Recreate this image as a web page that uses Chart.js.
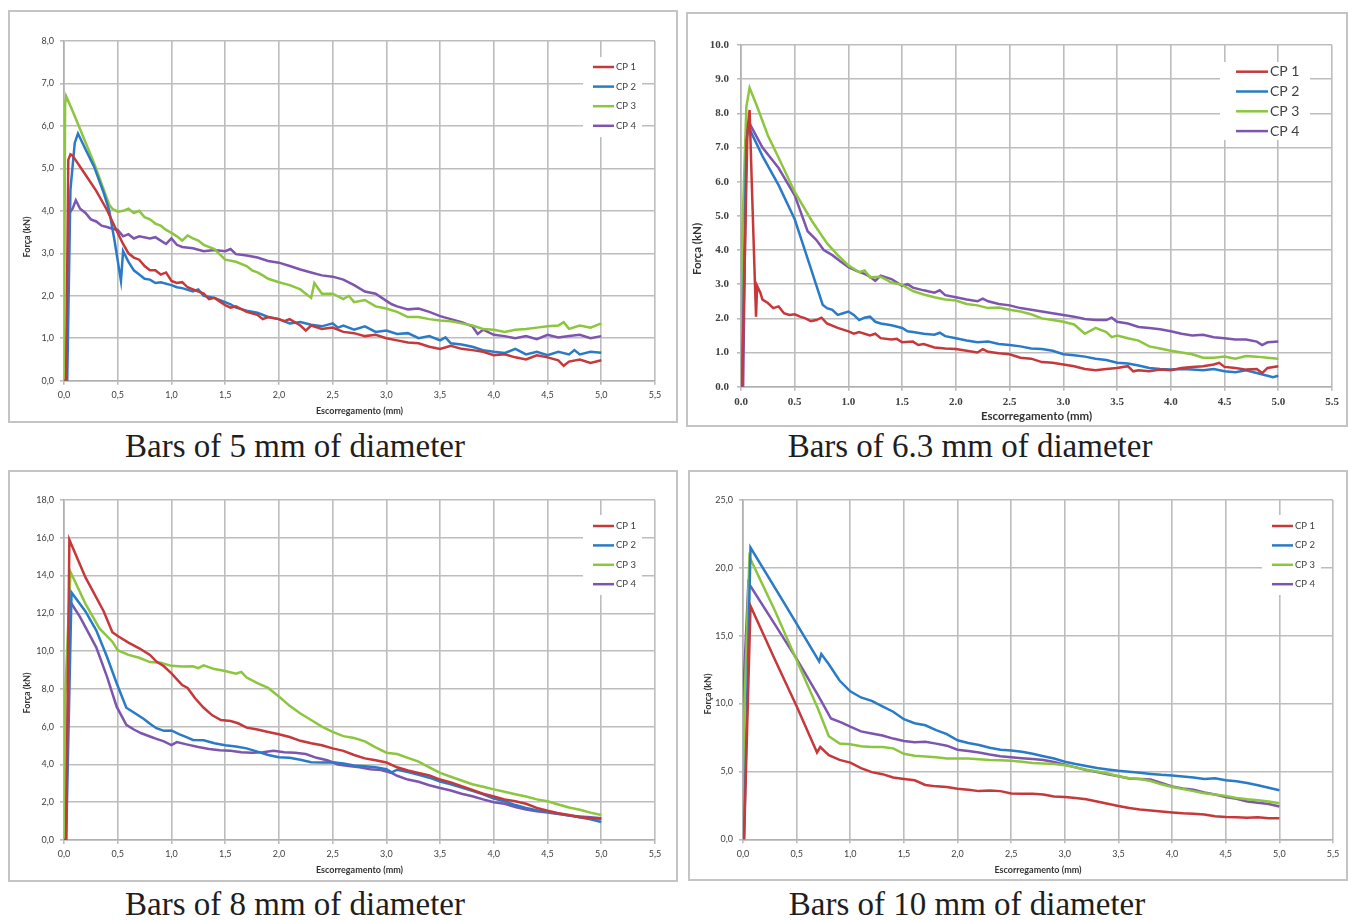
<!DOCTYPE html>
<html>
<head>
<meta charset="utf-8">
<script src="https://cdn.jsdelivr.net/npm/chart.js@4.4.0/dist/chart.umd.min.js"></script>
<style>
  body { margin:0; background:#fff; width:1348px; height:920px; overflow:hidden; position:relative; }
  .frame { position:absolute; border:2px solid #c4c4c4; box-sizing:border-box; }
  canvas { position:absolute; }
  .cap { position:absolute; font-family:"Liberation Serif", serif; font-size:33px; line-height:33px;
         color:#1e1e1e; white-space:nowrap; transform:translateX(-50%); }
</style>
</head>
<body>
<div class="frame" style="left:8px;top:10px;width:670px;height:413px"></div>
<div class="frame" style="left:686px;top:12px;width:662px;height:415px"></div>
<div class="frame" style="left:8px;top:470px;width:670px;height:412px"></div>
<div class="frame" style="left:688px;top:470px;width:660px;height:411px"></div>
<canvas id="c5" width="670" height="413" style="left:8px;top:10px"></canvas>
<canvas id="c63" width="662" height="415" style="left:686px;top:12px"></canvas>
<canvas id="c8" width="670" height="412" style="left:8px;top:470px"></canvas>
<canvas id="c10" width="660" height="411" style="left:688px;top:470px"></canvas>
<div class="cap" id="cap0" style="left:295px;top:430px"></div>
<div class="cap" id="cap1" style="left:970px;top:430px"></div>
<div class="cap" id="cap2" style="left:295px;top:888px"></div>
<div class="cap" id="cap3" style="left:967px;top:888px"></div>
<script>
// labels / axes
const seriesLabels = ['CP 1', 'CP 2', 'CP 3', 'CP 4'];
const seriesColors = ['#c6383a', '#2a7bc7', '#8cc63e', '#7d55ae'];
const captions = ['Bars of 5 mm of diameter', 'Bars of 6.3 mm of diameter',
                  'Bars of 8 mm of diameter', 'Bars of 10 mm of diameter'];
const xTitle = 'Escorregamento (mm)';
const yTitle = 'Força (kN)';
const xMax = 5.5, xStep = 0.5;
const yMax = [8, 10, 18, 25];
const yStep = [1, 1, 2, 5];

// ---- 5 mm
const p5_cp1 = [[0,0],[0.02,0],[0.04,5.2],[0.06,5.33],[0.08,5.3],[0.2,4.85],[0.3,4.47],[0.4,4.02],[0.5,3.48],[0.55,3.22],[0.6,3.0],[0.65,2.9],[0.7,2.85],[0.75,2.7],[0.8,2.6],[0.85,2.6],[0.9,2.5],[0.95,2.55],[1.0,2.35],[1.05,2.3],[1.1,2.32],[1.15,2.2],[1.2,2.15],[1.3,2.05],[1.35,1.92],[1.4,1.95],[1.5,1.78],[1.55,1.72],[1.6,1.75],[1.7,1.62],[1.8,1.55],[1.85,1.45],[1.9,1.5],[2.0,1.45],[2.05,1.4],[2.1,1.45],[2.2,1.3],[2.25,1.18],[2.3,1.3],[2.4,1.22],[2.5,1.25],[2.6,1.15],[2.7,1.12],[2.8,1.05],[2.9,1.08],[3.0,1.0],[3.1,0.95],[3.2,0.9],[3.3,0.88],[3.4,0.8],[3.5,0.75],[3.6,0.82],[3.7,0.75],[3.8,0.72],[3.9,0.68],[4.0,0.6],[4.1,0.62],[4.2,0.55],[4.3,0.5],[4.4,0.6],[4.5,0.55],[4.6,0.48],[4.65,0.35],[4.7,0.45],[4.8,0.5],[4.9,0.42],[5.0,0.48]];
const p5_cp2 = [[0.02,0],[0.03,0],[0.06,4.5],[0.1,5.6],[0.13,5.82],[0.2,5.45],[0.28,5.04],[0.37,4.42],[0.42,4.02],[0.47,3.3],[0.53,2.35],[0.55,3.05],[0.6,2.8],[0.65,2.6],[0.7,2.5],[0.75,2.4],[0.8,2.38],[0.85,2.3],[0.9,2.32],[1.0,2.25],[1.05,2.2],[1.1,2.18],[1.2,2.1],[1.25,2.15],[1.3,2.0],[1.4,1.95],[1.5,1.85],[1.55,1.8],[1.6,1.72],[1.7,1.65],[1.8,1.6],[1.9,1.5],[2.0,1.45],[2.1,1.35],[2.2,1.38],[2.3,1.32],[2.4,1.28],[2.5,1.35],[2.55,1.25],[2.6,1.3],[2.7,1.2],[2.8,1.28],[2.9,1.15],[3.0,1.18],[3.1,1.1],[3.2,1.12],[3.3,1.0],[3.4,1.05],[3.5,0.95],[3.55,1.02],[3.6,0.88],[3.7,0.85],[3.8,0.8],[3.9,0.72],[4.0,0.68],[4.1,0.65],[4.2,0.75],[4.3,0.62],[4.4,0.68],[4.5,0.6],[4.6,0.68],[4.7,0.62],[4.75,0.72],[4.8,0.62],[4.9,0.68],[5.0,0.66]];
const p5_cp3 = [[0,0],[0.01,6.5],[0.02,6.7],[0.08,6.35],[0.15,5.92],[0.28,5.12],[0.37,4.5],[0.42,4.15],[0.45,4.05],[0.5,3.98],[0.55,4.0],[0.6,4.05],[0.65,3.95],[0.7,4.0],[0.75,3.85],[0.8,3.8],[0.85,3.7],[0.9,3.65],[0.95,3.55],[1.0,3.48],[1.05,3.4],[1.1,3.3],[1.15,3.42],[1.2,3.35],[1.25,3.3],[1.3,3.2],[1.4,3.1],[1.5,2.85],[1.6,2.8],[1.7,2.7],[1.75,2.6],[1.8,2.55],[1.85,2.48],[1.9,2.4],[2.0,2.32],[2.1,2.25],[2.2,2.15],[2.25,2.05],[2.3,1.95],[2.33,2.3],[2.4,2.05],[2.5,2.05],[2.6,1.92],[2.65,2.0],[2.7,1.85],[2.8,1.9],[2.9,1.75],[3.0,1.7],[3.1,1.62],[3.2,1.5],[3.3,1.5],[3.4,1.45],[3.5,1.42],[3.6,1.4],[3.7,1.35],[3.8,1.3],[3.9,1.22],[4.0,1.2],[4.1,1.15],[4.2,1.2],[4.3,1.22],[4.4,1.25],[4.5,1.28],[4.6,1.3],[4.65,1.38],[4.7,1.22],[4.8,1.3],[4.9,1.25],[5.0,1.35]];
const p5_cp4 = [[0.01,0],[0.02,0],[0.05,3.95],[0.08,4.05],[0.11,4.25],[0.15,4.05],[0.2,3.95],[0.25,3.8],[0.3,3.75],[0.35,3.65],[0.4,3.62],[0.45,3.58],[0.5,3.55],[0.55,3.4],[0.6,3.45],[0.65,3.35],[0.7,3.4],[0.8,3.35],[0.85,3.38],[0.9,3.3],[0.95,3.22],[1.0,3.35],[1.05,3.2],[1.1,3.15],[1.2,3.12],[1.3,3.05],[1.4,3.08],[1.5,3.05],[1.55,3.1],[1.6,2.98],[1.7,2.95],[1.8,2.9],[1.9,2.82],[2.0,2.78],[2.1,2.7],[2.2,2.62],[2.3,2.55],[2.4,2.48],[2.5,2.45],[2.6,2.38],[2.7,2.25],[2.8,2.1],[2.9,2.05],[3.0,1.88],[3.05,1.8],[3.1,1.75],[3.2,1.68],[3.3,1.7],[3.4,1.62],[3.5,1.52],[3.6,1.45],[3.7,1.38],[3.8,1.28],[3.85,1.1],[3.9,1.2],[4.0,1.08],[4.1,1.05],[4.2,1.0],[4.3,1.05],[4.4,0.98],[4.5,1.08],[4.6,1.02],[4.7,1.05],[4.8,1.08],[4.9,1.0],[5.0,1.05]];

// ---- 6.3 mm
const p63_cp1 = [[0,0],[0.01,0],[0.06,7.5],[0.08,8.1],[0.1,6.0],[0.13,3.0],[0.14,2.05],[0.15,2.95],[0.18,2.75],[0.2,2.55],[0.25,2.45],[0.3,2.3],[0.35,2.35],[0.4,2.15],[0.45,2.1],[0.5,2.12],[0.55,2.05],[0.6,2.0],[0.65,1.92],[0.7,1.95],[0.75,2.02],[0.8,1.85],[0.9,1.72],[1.0,1.62],[1.05,1.55],[1.1,1.6],[1.2,1.5],[1.25,1.55],[1.3,1.42],[1.4,1.38],[1.45,1.4],[1.5,1.3],[1.6,1.32],[1.65,1.22],[1.7,1.25],[1.8,1.15],[1.9,1.12],[2.0,1.1],[2.1,1.05],[2.2,1.0],[2.25,1.1],[2.3,1.02],[2.4,0.98],[2.5,0.95],[2.6,0.85],[2.7,0.82],[2.8,0.72],[2.9,0.7],[3.0,0.65],[3.1,0.6],[3.2,0.52],[3.3,0.48],[3.4,0.52],[3.5,0.55],[3.6,0.6],[3.65,0.45],[3.7,0.48],[3.8,0.45],[3.9,0.5],[4.0,0.48],[4.1,0.55],[4.2,0.58],[4.3,0.6],[4.4,0.65],[4.45,0.7],[4.5,0.58],[4.6,0.55],[4.7,0.5],[4.8,0.52],[4.85,0.4],[4.9,0.55],[5.0,0.6]];
const p63_cp2 = [[0,0],[0.01,0],[0.05,7.2],[0.07,7.6],[0.2,6.75],[0.35,5.9],[0.5,4.9],[0.62,3.75],[0.76,2.4],[0.8,2.3],[0.85,2.25],[0.9,2.1],[0.95,2.15],[1.0,2.2],[1.05,2.1],[1.1,1.95],[1.15,2.02],[1.2,2.05],[1.25,1.9],[1.3,1.85],[1.4,1.8],[1.5,1.72],[1.55,1.62],[1.6,1.6],[1.7,1.55],[1.8,1.52],[1.85,1.58],[1.9,1.48],[2.0,1.42],[2.1,1.35],[2.2,1.3],[2.3,1.32],[2.4,1.25],[2.5,1.22],[2.6,1.18],[2.7,1.12],[2.8,1.1],[2.9,1.05],[3.0,0.95],[3.1,0.92],[3.2,0.88],[3.3,0.82],[3.4,0.78],[3.5,0.7],[3.6,0.68],[3.7,0.62],[3.8,0.55],[3.9,0.52],[4.0,0.5],[4.1,0.52],[4.2,0.5],[4.3,0.48],[4.4,0.52],[4.5,0.45],[4.6,0.42],[4.7,0.48],[4.8,0.4],[4.9,0.32],[4.95,0.28],[5.0,0.32]];
const p63_cp3 = [[0,0],[0.01,4.3],[0.05,8.2],[0.08,8.75],[0.15,8.2],[0.25,7.35],[0.35,6.7],[0.5,5.7],[0.66,4.85],[0.8,4.2],[0.9,3.85],[1.0,3.55],[1.1,3.35],[1.15,3.4],[1.2,3.2],[1.3,3.22],[1.4,3.05],[1.5,2.98],[1.6,2.8],[1.7,2.7],[1.8,2.62],[1.9,2.55],[2.0,2.52],[2.1,2.42],[2.2,2.38],[2.3,2.3],[2.4,2.32],[2.5,2.25],[2.6,2.2],[2.7,2.12],[2.8,2.0],[2.9,1.95],[3.0,1.9],[3.1,1.82],[3.2,1.55],[3.3,1.72],[3.4,1.6],[3.45,1.45],[3.5,1.5],[3.6,1.42],[3.7,1.35],[3.8,1.18],[3.9,1.12],[4.0,1.05],[4.1,1.0],[4.2,0.95],[4.3,0.85],[4.4,0.85],[4.5,0.88],[4.6,0.82],[4.7,0.9],[4.8,0.88],[4.9,0.85],[5.0,0.82]];
const p63_cp4 = [[0.01,0],[0.02,0],[0.05,7.3],[0.08,7.7],[0.2,7.0],[0.35,6.4],[0.5,5.6],[0.62,4.55],[0.7,4.3],[0.77,4.0],[0.85,3.85],[0.93,3.66],[1.0,3.5],[1.08,3.38],[1.15,3.3],[1.2,3.22],[1.25,3.1],[1.3,3.25],[1.4,3.15],[1.5,2.95],[1.55,3.0],[1.6,2.9],[1.7,2.82],[1.8,2.75],[1.85,2.82],[1.9,2.68],[2.0,2.62],[2.1,2.55],[2.2,2.5],[2.25,2.58],[2.3,2.5],[2.4,2.42],[2.5,2.38],[2.6,2.3],[2.7,2.25],[2.8,2.2],[2.9,2.15],[3.0,2.1],[3.1,2.05],[3.2,1.98],[3.3,1.95],[3.4,1.95],[3.45,2.02],[3.5,1.9],[3.6,1.85],[3.7,1.75],[3.8,1.72],[3.9,1.68],[4.0,1.62],[4.1,1.55],[4.2,1.5],[4.3,1.52],[4.4,1.45],[4.5,1.42],[4.6,1.38],[4.7,1.38],[4.8,1.32],[4.85,1.22],[4.9,1.3],[5.0,1.32]];

// ---- 8 mm
const p8_cp1 = [[0,0],[0.02,0],[0.05,15.9],[0.2,13.9],[0.37,12.1],[0.45,11.0],[0.5,10.8],[0.6,10.45],[0.7,10.15],[0.8,9.8],[0.86,9.45],[0.93,9.2],[1.0,8.82],[1.1,8.2],[1.15,8.05],[1.22,7.5],[1.3,7.0],[1.38,6.6],[1.46,6.35],[1.55,6.3],[1.62,6.18],[1.7,5.95],[1.8,5.85],[1.9,5.72],[2.0,5.6],[2.1,5.45],[2.2,5.25],[2.3,5.12],[2.4,5.02],[2.5,4.85],[2.6,4.72],[2.7,4.5],[2.8,4.32],[2.9,4.22],[3.0,4.1],[3.1,3.85],[3.2,3.68],[3.3,3.55],[3.4,3.42],[3.5,3.2],[3.6,3.05],[3.7,2.85],[3.8,2.65],[3.9,2.45],[4.0,2.3],[4.1,2.15],[4.2,2.05],[4.3,1.92],[4.4,1.7],[4.5,1.55],[4.6,1.42],[4.7,1.32],[4.8,1.2],[4.9,1.15],[5.0,1.12]];
const p8_cp2 = [[0.01,0],[0.02,0],[0.07,13.1],[0.2,12.1],[0.3,11.1],[0.4,9.7],[0.49,8.3],[0.58,7.0],[0.65,6.75],[0.74,6.42],[0.8,6.15],[0.86,5.92],[0.93,5.78],[1.0,5.8],[1.07,5.6],[1.14,5.45],[1.2,5.3],[1.3,5.28],[1.4,5.12],[1.5,5.02],[1.6,4.95],[1.7,4.85],[1.8,4.68],[1.9,4.5],[2.0,4.38],[2.1,4.35],[2.2,4.25],[2.3,4.12],[2.4,4.1],[2.5,4.12],[2.6,4.05],[2.7,3.95],[2.8,3.9],[2.9,3.85],[3.0,3.75],[3.05,3.58],[3.1,3.72],[3.2,3.6],[3.3,3.45],[3.4,3.3],[3.5,3.1],[3.6,2.95],[3.7,2.78],[3.8,2.6],[3.9,2.42],[4.0,2.2],[4.1,2.05],[4.2,1.85],[4.3,1.7],[4.4,1.58],[4.5,1.5],[4.6,1.4],[4.7,1.3],[4.8,1.2],[4.9,1.1],[5.0,0.95]];
const p8_cp3 = [[0,0],[0.01,7.5],[0.06,14.2],[0.2,12.5],[0.33,11.2],[0.45,10.5],[0.5,10.05],[0.6,9.8],[0.7,9.65],[0.8,9.42],[0.9,9.38],[1.0,9.22],[1.1,9.18],[1.2,9.2],[1.25,9.1],[1.3,9.25],[1.4,9.05],[1.5,8.95],[1.6,8.8],[1.65,8.9],[1.7,8.6],[1.8,8.3],[1.9,8.05],[2.0,7.6],[2.1,7.1],[2.2,6.7],[2.3,6.35],[2.4,6.0],[2.5,5.72],[2.6,5.5],[2.7,5.4],[2.8,5.22],[2.9,4.9],[3.0,4.62],[3.1,4.55],[3.2,4.35],[3.3,4.15],[3.4,3.85],[3.5,3.55],[3.6,3.35],[3.7,3.15],[3.8,2.95],[3.9,2.82],[4.0,2.68],[4.1,2.55],[4.2,2.42],[4.3,2.3],[4.4,2.15],[4.5,2.05],[4.6,1.88],[4.7,1.72],[4.8,1.6],[4.9,1.45],[5.0,1.32]];
const p8_cp4 = [[0,0],[0.01,0],[0.06,12.6],[0.15,11.8],[0.3,10.2],[0.4,8.65],[0.49,7.06],[0.58,6.1],[0.65,5.85],[0.72,5.65],[0.8,5.48],[0.86,5.35],[0.93,5.22],[1.0,5.02],[1.05,5.18],[1.15,5.05],[1.25,4.92],[1.35,4.82],[1.45,4.75],[1.55,4.72],[1.65,4.65],[1.75,4.62],[1.85,4.65],[1.95,4.72],[2.05,4.65],[2.15,4.62],[2.25,4.55],[2.35,4.35],[2.45,4.22],[2.55,4.0],[2.65,3.92],[2.75,3.85],[2.85,3.75],[2.95,3.7],[3.05,3.55],[3.1,3.4],[3.2,3.2],[3.3,3.08],[3.4,2.9],[3.5,2.75],[3.6,2.62],[3.7,2.45],[3.8,2.32],[3.9,2.15],[4.0,2.0],[4.1,1.92],[4.2,1.75],[4.3,1.62],[4.4,1.52],[4.5,1.45],[4.6,1.38],[4.7,1.3],[4.8,1.25],[4.9,1.2],[5.0,1.15]];

// ---- 10 mm
const p10_cp1 = [[0,0],[0.01,0],[0.07,17.2],[0.3,13.2],[0.5,9.8],[0.69,6.4],[0.72,6.8],[0.8,6.2],[0.9,5.85],[1.0,5.65],[1.1,5.25],[1.2,4.95],[1.3,4.8],[1.4,4.55],[1.5,4.45],[1.6,4.35],[1.7,4.0],[1.8,3.9],[1.9,3.85],[2.0,3.72],[2.1,3.65],[2.2,3.55],[2.3,3.6],[2.4,3.55],[2.5,3.38],[2.6,3.35],[2.7,3.35],[2.8,3.3],[2.9,3.15],[3.0,3.12],[3.1,3.05],[3.2,2.95],[3.3,2.78],[3.4,2.62],[3.5,2.45],[3.6,2.3],[3.7,2.2],[3.8,2.12],[3.9,2.05],[4.0,1.98],[4.1,1.92],[4.2,1.88],[4.3,1.82],[4.4,1.7],[4.5,1.65],[4.6,1.62],[4.7,1.58],[4.8,1.62],[4.9,1.55],[5.0,1.55]];
const p10_cp2 = [[0,0],[0.01,0],[0.07,21.5],[0.4,17.2],[0.71,13.1],[0.73,13.65],[0.8,12.9],[0.9,11.7],[1.0,10.9],[1.1,10.45],[1.2,10.2],[1.3,9.8],[1.4,9.4],[1.5,8.85],[1.6,8.55],[1.7,8.4],[1.8,8.05],[1.9,7.75],[2.0,7.3],[2.1,7.1],[2.2,6.95],[2.3,6.75],[2.4,6.6],[2.5,6.55],[2.6,6.45],[2.7,6.3],[2.8,6.12],[2.9,5.95],[3.0,5.72],[3.1,5.55],[3.2,5.4],[3.3,5.25],[3.4,5.15],[3.5,5.05],[3.6,4.98],[3.7,4.9],[3.8,4.82],[3.9,4.75],[4.0,4.7],[4.1,4.62],[4.2,4.55],[4.3,4.45],[4.4,4.5],[4.5,4.35],[4.6,4.28],[4.7,4.15],[4.8,3.98],[4.9,3.8],[5.0,3.62]];
const p10_cp3 = [[0,0],[0.01,9],[0.06,20.8],[0.3,16.8],[0.5,13.2],[0.7,9.6],[0.8,7.6],[0.9,7.05],[1.0,7.0],[1.1,6.85],[1.2,6.8],[1.3,6.8],[1.4,6.7],[1.5,6.3],[1.6,6.15],[1.7,6.1],[1.8,6.05],[1.9,5.95],[2.0,5.95],[2.1,5.95],[2.2,5.9],[2.3,5.85],[2.4,5.82],[2.5,5.78],[2.6,5.72],[2.7,5.62],[2.8,5.58],[2.9,5.55],[3.0,5.45],[3.1,5.3],[3.2,5.12],[3.3,5.0],[3.4,4.85],[3.5,4.65],[3.6,4.5],[3.7,4.45],[3.8,4.3],[3.9,4.05],[4.0,3.85],[4.1,3.7],[4.2,3.55],[4.3,3.4],[4.4,3.3],[4.5,3.2],[4.6,3.05],[4.7,2.95],[4.8,2.88],[4.9,2.78],[5.0,2.65]];
const p10_cp4 = [[0,0],[0.01,12],[0.05,18.9],[0.3,15.8],[0.5,13.3],[0.7,10.6],[0.82,8.9],[0.92,8.6],[1.0,8.3],[1.1,7.95],[1.2,7.8],[1.3,7.65],[1.4,7.42],[1.5,7.25],[1.6,7.15],[1.7,7.18],[1.8,7.05],[1.9,6.9],[2.0,6.6],[2.1,6.5],[2.2,6.4],[2.3,6.25],[2.4,6.12],[2.5,6.05],[2.6,5.98],[2.7,5.92],[2.8,5.85],[2.9,5.7],[3.0,5.5],[3.1,5.3],[3.2,5.1],[3.3,4.95],[3.4,4.8],[3.5,4.65],[3.6,4.48],[3.7,4.45],[3.8,4.4],[3.9,4.15],[4.0,3.9],[4.1,3.75],[4.2,3.65],[4.3,3.45],[4.4,3.3],[4.5,3.12],[4.6,2.98],[4.7,2.78],[4.8,2.7],[4.9,2.6],[5.0,2.42]];

Chart.defaults.font.family = 'Lato';

// legend box + rotated y title, drawn on top of the plot
const panelDecor = {
  id: 'panelDecor',
  afterDraw(chart, args, o) {
    const ctx = chart.ctx;
    ctx.save();
    ctx.translate(o.yt[0], o.yt[1]);
    ctx.rotate(-Math.PI / 2);
    ctx.font = o.ytFont;
    ctx.fillStyle = '#333';
    ctx.textAlign = 'center';
    ctx.textBaseline = 'middle';
    ctx.fillText(yTitle, 0, 0);
    ctx.restore();

    ctx.save();
    ctx.fillStyle = '#fff';
    ctx.fillRect(o.box[0], o.box[1], o.box[2], o.box[3]);
    ctx.font = o.lgFont;
    ctx.textAlign = 'left';
    ctx.textBaseline = 'middle';
    chart.data.datasets.forEach((ds, i) => {
      const y = o.lg[1] + i * o.dy;
      ctx.strokeStyle = ds.borderColor;
      ctx.lineWidth = 2.5;
      ctx.beginPath();
      ctx.moveTo(o.lg[0], y);
      ctx.lineTo(o.lg[0] + o.len, y);
      ctx.stroke();
      ctx.fillStyle = '#404040';
      ctx.fillText(ds.label, o.lg[0] + o.len + 2, y);
    });
    ctx.restore();
  }
};

function makePanel(id, series, k, g) {
  const fmt = v => g.dot ? v.toFixed(1) : v.toFixed(1).replace('.', ',');
  const grid = { color: '#bdbdbd', lineWidth: 1.6, tickLength: 4 };
  const border = { color: '#b0b0b0', width: 1.6 };
  new Chart(document.getElementById(id), {
    type: 'line',
    data: {
      datasets: series.map((s, i) => ({
        label: seriesLabels[i],
        data: s.map(p => ({ x: p[0], y: p[1] })),
        borderColor: seriesColors[i],
        borderWidth: 2.5,
        pointRadius: 0,
        tension: 0,
        fill: false
      }))
    },
    options: {
      responsive: false,
      animation: false,
      layout: { padding: { left: 0, top: g.top, right: g.right, bottom: 0 } },
      plugins: {
        legend: { display: false },
        tooltip: { enabled: false },
        panelDecor: g.decor
      },
      scales: {
        x: {
          type: 'linear', min: 0, max: xMax,
          ticks: { stepSize: xStep, padding: 5, color: '#404040', font: g.tickFont, callback: fmt, maxRotation: 0 },
          grid, border,
          title: { display: true, text: xTitle, color: '#333', font: g.xtFont, padding: { top: 0, bottom: g.xtPad } },
          afterFit: s => { s.height = g.xh; }
        },
        y: {
          min: 0, max: yMax[k],
          ticks: { stepSize: yStep[k], padding: g.ytPad, color: '#404040', font: g.tickFont, callback: fmt },
          grid, border,
          afterFit: s => { s.width = g.left; }
        }
      }
    },
    plugins: [panelDecor]
  });
}

const smallTick = { size: 9 };
const smallTitle = { size: 9, weight: 'bold' };
const smallLegend = '9.5px Lato';

makePanel('c5', [p5_cp1, p5_cp2, p5_cp3, p5_cp4], 0, {
  left: 56, top: 31, right: 23, xh: 42.3, ytPad: 6, xtPad: 6.6,
  tickFont: smallTick, xtFont: smallTitle,
  decor: { yt: [19, 227], ytFont: 'bold 9px Lato', box: [575, 47, 59, 80], lg: [585, 57], dy: 19.6, len: 21, lgFont: smallLegend }
});
makePanel('c63', [p63_cp1, p63_cp2, p63_cp3, p63_cp4], 1, {
  left: 55, top: 33, right: 16, xh: 40.3, ytPad: 8, xtPad: 3.4, dot: true,
  tickFont: { size: 11, weight: 'bold', family: 'Liberation Serif' }, xtFont: { size: 11.5, weight: 'bold' },
  decor: { yt: [11, 237], ytFont: 'bold 11.5px Lato', box: [534, 50, 90, 78], lg: [550, 59.7], dy: 19.8, len: 32, lgFont: '14px Lato' }
});
makePanel('c8', [p8_cp1, p8_cp2, p8_cp3, p8_cp4], 2, {
  left: 56, top: 30, right: 23, xh: 42, ytPad: 6, xtPad: 6.1,
  tickFont: smallTick, xtFont: smallTitle,
  decor: { yt: [19, 223], ytFont: 'bold 9px Lato', box: [575, 45, 59, 80], lg: [585, 56], dy: 19.4, len: 21, lgFont: smallLegend }
});
makePanel('c10', [p10_cp1, p10_cp2, p10_cp3, p10_cp4], 3, {
  left: 55, top: 30, right: 15, xh: 41.7, ytPad: 6, xtPad: 5.6,
  tickFont: smallTick, xtFont: smallTitle,
  decor: { yt: [20, 224], ytFont: 'bold 9px Lato', box: [574, 45, 59, 80], lg: [584, 56], dy: 19.4, len: 21, lgFont: smallLegend }
});

captions.forEach((t, i) => { document.getElementById('cap' + i).textContent = t; });
</script>
</body>
</html>
